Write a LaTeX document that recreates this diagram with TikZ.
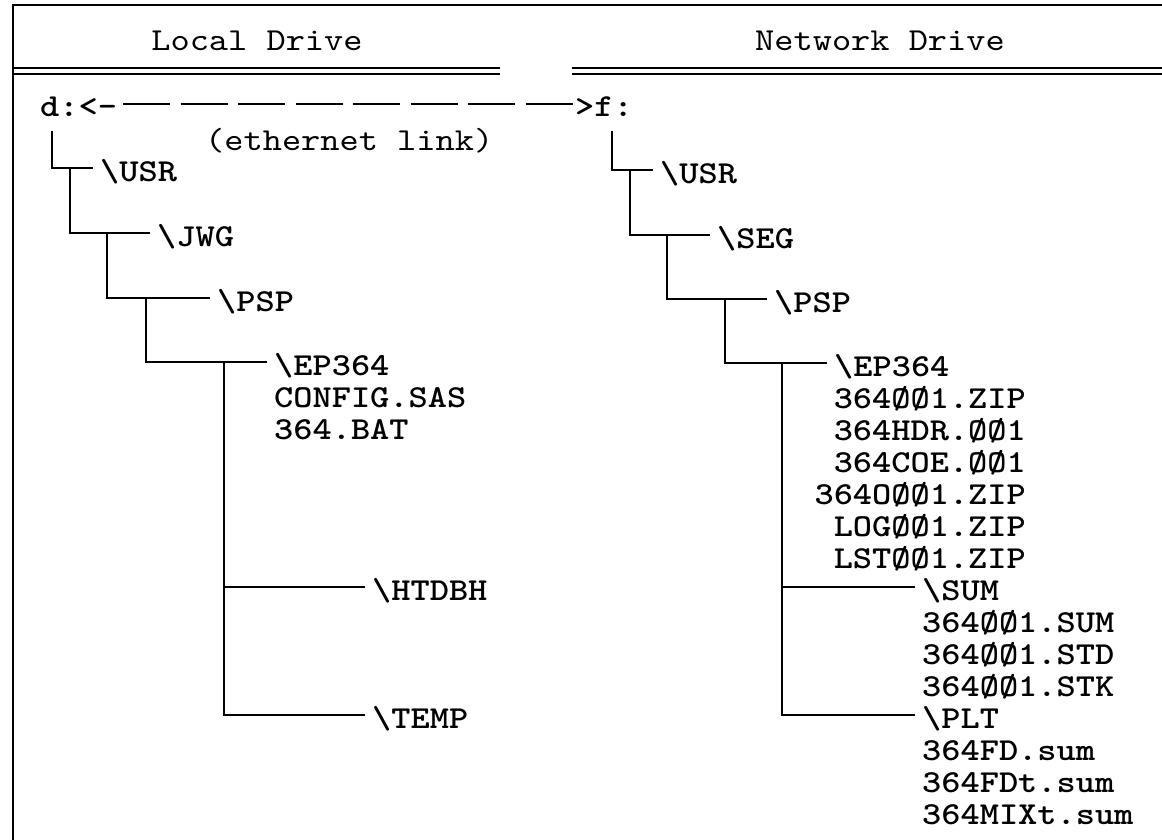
\documentclass[tikz,border=0pt]{standalone}
\usepackage{fontspec}
\usetikzlibrary{calc}
\newfontfamily\courreg{lmmono10-regular.otf}[FakeStretch=1.143]
\newfontfamily\courbold{lmmonolt10-bold.otf}[FakeStretch=1.143]
\newcommand\dsz{\fontsize{32pt}{32pt}\selectfont}
\tikzset{
  lbl/.style={anchor=west, inner xsep=7pt, inner ysep=0pt, text height=26pt, text depth=0pt, font=\courbold\dsz},
  file/.style={inner sep=0pt, text height=22pt, text depth=3pt, font=\courbold\dsz},
  hdr/.style={inner sep=0pt, anchor=base, font=\courreg\dsz},
  tree/.style={line width=2.4pt},
  frame/.style={line width=2pt},
}
\begin{document}
\begin{tikzpicture}[x=1pt,y=-1pt]
\useasboundingbox (0,0) rectangle (1162,840);
% frame
\coordinate (tl) at (13,5);
\coordinate (tr) at (1162,5);
\coordinate (bl) at (13,840);
\draw[frame] (tr) -- (tl) -- (bl);
\draw[frame] (13,68) -- (500,68);
\draw[frame] (13,74) -- (500,74);
\draw[frame] (572,68) -- (1162,68);
\draw[frame] (572,74) -- (1162,74);
% headers
\node[hdr] (hl) at (257,51) {Local Drive};
\node[hdr] (hr) at (880,51) {Network Drive};
% link
\node[lbl, inner xsep=0pt] (dL) at (40,104) {d:<-};
\node[lbl, inner xsep=0pt] (fR) at (575,104) {>f:};
\draw[line width=2.2pt, dash pattern=on 47pt off 10.5pt] ([xshift=6pt]dL.east) -- (fR.west);
\node[anchor=base west, inner sep=0pt, font=\courreg\dsz] (eth) at (205,151) {(ethernet link)};
% left tree
\coordinate (rootL) at (52,131);
\node[lbl] (usrL) at (93,168) {\textbackslash USR};
\coordinate (jL1) at (70,168);
\node[lbl] (jwgL) at (150,233) {\textbackslash JWG};
\coordinate (jL2) at (107,233);
\node[lbl] (pspL) at (210,298) {\textbackslash PSP};
\coordinate (jL3) at (146,298);
\node[lbl] (epL) at (267,362) {\textbackslash EP364};
\node[file, anchor=base west] (cfgL) at (274,407) {CONFIG.SAS};
\node[file, anchor=base west] (batL) at (274,439) {364.BAT};
\coordinate (jL4) at (224,362);
\node[lbl] (htdL) at (365,587) {\textbackslash HTDBH};
\node[lbl] (tmpL) at (365,715) {\textbackslash TEMP};
\draw[tree] (rootL) |- (usrL.west);
\draw[tree] (jL1) |- (jwgL.west);
\draw[tree] (jL2) |- (pspL.west);
\draw[tree] (jL3) |- (epL.west);
\draw[tree] (jL4) |- (htdL.west);
\draw[tree] (jL4) |- (tmpL.west);
% right tree
\coordinate (rootR) at (612,131);
\node[lbl] (usrR) at (653,170) {\textbackslash USR};
\coordinate (jR1) at (630,170);
\node[lbl] (segR) at (710,235) {\textbackslash SEG};
\coordinate (jR2) at (667,235);
\node[lbl] (pspR) at (767,299) {\textbackslash PSP};
\coordinate (jR3) at (725,299);
\node[lbl] (epR) at (827,363) {\textbackslash EP364};
\coordinate (jR4) at (782,363);
\node[file, anchor=base east] (f1) at (1026,408) {364ØØ1.ZIP};
\node[file, anchor=base east] (f2) at (1026,440) {364HDR.ØØ1};
\node[file, anchor=base east] (f3) at (1026,472) {364COE.ØØ1};
\node[file, anchor=base east] (f4) at (1026,504) {364OØØ1.ZIP};
\node[file, anchor=base east] (f5) at (1026,536) {LOGØØ1.ZIP};
\node[file, anchor=base east] (f6) at (1026,568) {LSTØØ1.ZIP};
\node[lbl] (sumR) at (915,587) {\textbackslash SUM};
\node[file, anchor=base west] (s1) at (922,632) {364ØØ1.SUM};
\node[file, anchor=base west] (s2) at (922,664) {364ØØ1.STD};
\node[file, anchor=base west] (s3) at (922,696) {364ØØ1.STK};
\node[lbl] (pltR) at (915,715) {\textbackslash PLT};
\node[file, anchor=base west] (p1) at (922,760) {364FD.sum};
\node[file, anchor=base west] (p2) at (922,792) {364FDt.sum};
\node[file, anchor=base west] (p3) at (922,824) {364MIXt.sum};
\draw[tree] (rootR) |- (usrR.west);
\draw[tree] (jR1) |- (segR.west);
\draw[tree] (jR2) |- (pspR.west);
\draw[tree] (jR3) |- (epR.west);
\draw[tree] (jR4) |- (sumR.west);
\draw[tree] (jR4) |- (pltR.west);
\end{tikzpicture}
\end{document}
